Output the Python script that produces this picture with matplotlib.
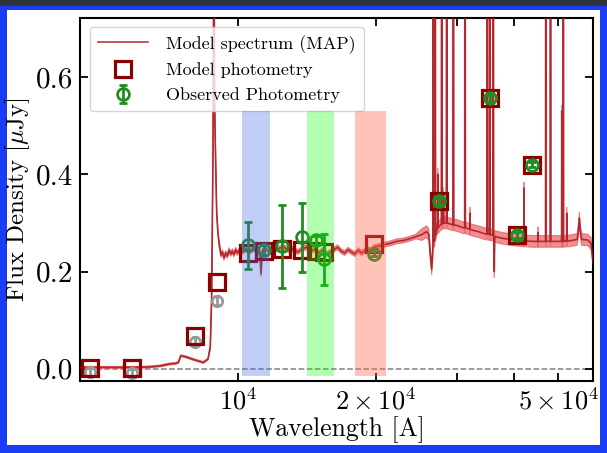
import numpy as np
import matplotlib
matplotlib.use("Agg")
import matplotlib.pyplot as plt
from matplotlib.patches import Rectangle
from matplotlib.ticker import FixedLocator, NullFormatter

plt.rcParams["font.family"] = "serif"
plt.rcParams["font.serif"] = ["cmr10", "DejaVu Serif"]
plt.rcParams["mathtext.fontset"] = "cm"
plt.rcParams["axes.unicode_minus"] = False
plt.rcParams["axes.formatter.use_mathtext"] = True

# model spectrum (MAP): wavelength [A], flux [uJy]
spec_wave = [4530, 5000, 5500, 6000, 6430, 6760, 7100, 7300, 7410, 7470, 7500, 7730, 8000, 8400, 8600,
             8700, 8760, 8820, 8860, 8890, 8940, 8985, 9040, 9100, 9180, 9250, 9320, 9400, 9480, 9560,
             9640, 9720, 9800, 9880, 9960, 10050, 10200, 10400, 10600, 10800, 11000, 11150, 11227, 11300,
             11500, 11800, 12000, 12300, 12600, 12900, 13200, 13500, 13800, 14100, 14400, 14700, 15000,
             15300, 15600, 15900, 16200, 16500, 16800, 17100, 17400, 17700, 18000, 18300, 18600, 18900,
             19200, 19500, 19800, 20200, 20800, 21500, 22200, 23000, 23800, 24500, 25200, 25800, 26100,
             26300, 26480, 26620, 26660, 26700, 26740, 26900, 26950, 27000, 27200, 27270, 27300, 27330,
             27800, 27850, 27900, 28060, 28100, 28140, 28510, 28560, 28610, 29000, 29480, 29530, 29580,
             30000, 31000, 31250, 31310, 31370, 32080, 32110, 32140, 32500, 33500, 34500, 34960, 35020,
             35080, 35410, 35470, 35530, 36030, 36090, 36150, 36200, 36270, 36350, 38000, 40000, 42080,
             42120, 42160, 44000, 45150, 45190, 45230, 46930, 46990, 47050, 48060, 48120, 48180, 50000,
             50870, 50920, 50970, 51270, 51330, 51390, 52170, 52210, 52250, 53000, 55000, 55300, 55620,
             55950, 56300, 58000, 59000, 59700]
spec_flux = [0.003, 0.003, 0.003, 0.003, 0.004, 0.006, 0.010, 0.011, 0.013, 0.022, 0.027, 0.024, 0.019, 0.013, 0.020,
             0.045, 0.150, 0.450, 0.950, 0.550, 0.420, 0.320, 0.280, 0.256, 0.234, 0.240, 0.228, 0.238, 0.232, 0.244,
             0.236, 0.242, 0.235, 0.245, 0.238, 0.243, 0.240, 0.246, 0.241, 0.247, 0.242, 0.244, 0.195, 0.243,
             0.246, 0.240, 0.244, 0.248, 0.250, 0.244, 0.247, 0.240, 0.246, 0.250, 0.242, 0.246, 0.238,
             0.244, 0.236, 0.240, 0.245, 0.250, 0.242, 0.238, 0.245, 0.240, 0.236, 0.244, 0.238, 0.242,
             0.246, 0.244, 0.250, 0.252, 0.255, 0.258, 0.262, 0.264, 0.268, 0.272, 0.276, 0.282, 0.276,
             0.235, 0.205, 0.240, 0.260, 1.500, 0.260, 0.265, 1.500, 0.275, 0.288, 0.290, 0.400, 0.290,
             0.298, 1.500, 0.298, 0.300, 0.360, 0.300, 0.300, 1.500, 0.300, 0.298, 0.296, 1.500, 0.296,
             0.295, 0.290, 0.290, 1.500, 0.290, 0.287, 0.320, 0.287, 0.285, 0.282, 0.278, 0.277, 1.500,
             0.277, 0.276, 1.500, 0.276, 0.275, 1.500, 0.275, 0.270, 0.200, 0.272, 0.268, 0.265, 0.263,
             0.372, 0.263, 0.262, 0.262, 0.280, 0.262, 0.262, 1.500, 0.262, 0.262, 1.500, 0.262, 0.262,
             0.262, 0.530, 0.262, 0.262, 1.500, 0.262, 0.263, 0.320, 0.263, 0.263, 0.266, 0.280, 0.310,
             0.280, 0.266, 0.265, 0.258, 0.215]
# half-width of the shaded band: thin below the break, wider redwards
err_ranges = [(0, 8700, 0.002), (8700, 25000, 0.005), (25000, 1e6, 0.012)]
spec_err = [next(e for lo, hi, e in err_ranges if lo <= w < hi) for w in spec_wave]

# photometry
phot_wave = [4752, 5860, 8055, 9013, 10530, 11412, 12454, 13778, 14805, 15438, 19822, 27496, 35466, 40684, 43770]
model_phot = [0.0015, 0.0015, 0.068, 0.178, 0.239, 0.243, 0.246, 0.245, 0.2425, 0.241, 0.257, 0.346, 0.556, 0.275, 0.419]

# observed photometry: grey = not used in the fit, green = used
grey_wave = [4752, 5860, 8055, 9013]
grey_flux = [-0.006, -0.008, 0.056, 0.140]
grey_err = [0.008, 0.008, 0.009, 0.009]
obs_wave = [10530, 11412, 12454, 13778, 14805, 15438, 19822, 27496, 35466, 40684, 43770]
obs_flux = [0.254, 0.245, 0.252, 0.270, 0.264, 0.225, 0.237, 0.345, 0.556, 0.275, 0.420]
obs_err = [0.048, 0.010, 0.085, 0.071, 0.010, 0.053, 0.006, 0.006, 0.008, 0.006, 0.006]

# shaded filter windows
band_edges = [(10200, 11730), (14150, 16180), (18000, 21040)]
band_colors = ["royalblue", "lime", "tomato"]
band_alpha = [0.33, 0.3, 0.38]
band_y = (-0.014, 0.53)

fig = plt.figure(figsize=(6.07, 4.53), dpi=100, facecolor="#2c3436")
fig.add_artist(Rectangle((0, 0), 1, 447 / 453, transform=fig.transFigure, facecolor="#1a3cf5",
                         edgecolor="none", zorder=-10))
fig.add_artist(Rectangle((7 / 607, 8 / 453), 593 / 607, 435 / 453, transform=fig.transFigure,
                         facecolor="white", edgecolor="none", zorder=-9))

ax = fig.add_axes([0.1326, 0.159, 0.845, 0.802])
ax.set_xscale("log")

lo = np.array(spec_flux) - np.array(spec_err)
hi = np.array(spec_flux) + np.array(spec_err)
ax.fill_between(spec_wave, lo, hi, color="#e5454a", alpha=0.6, lw=0.8, zorder=2)
ax.plot(spec_wave, spec_flux, color="#a8181e", lw=1.2, alpha=0.85, zorder=3, label="Model spectrum (MAP)")

ax.axhline(0, color="gray", ls="--", lw=1.1, zorder=1)

ax.errorbar(grey_wave, grey_flux, yerr=grey_err, fmt="o", mfc="none", mec="#999999", ecolor="#999999",
            ms=7.5, mew=2, elinewidth=2, capsize=2.5, capthick=2, zorder=4)
ax.plot(phot_wave, model_phot, "s", mfc="none", mec="#8b0000", ms=11, mew=2.3, zorder=5,
        label="Model photometry")
ax.errorbar(obs_wave, obs_flux, yerr=obs_err, fmt="o", mfc="none", mec="#228b22", ecolor="#228b22",
            ms=8.5, mew=2, elinewidth=2, capsize=3, capthick=2, zorder=6, label="Observed Photometry")

for (x0, x1), c, a in zip(band_edges, band_colors, band_alpha):
    ax.fill_between([x0, x1], band_y[0], band_y[1], color=c, alpha=a, lw=0, zorder=7)

ax.set_xlim(4530, 59700)
ax.set_ylim(-0.025, 0.722)

ax.xaxis.set_major_locator(FixedLocator([1e4, 2e4, 5e4]))
ax.set_xticklabels([r"$10^4$", r"$2\times10^4$", r"$5\times10^4$"])
ax.xaxis.set_minor_locator(FixedLocator([3e4, 4e4]))
ax.xaxis.set_minor_formatter(NullFormatter())
ax.set_yticks([0.0, 0.2, 0.4, 0.6])
ax.set_yticklabels(["0.0", "0.2", "0.4", "0.6"])
ax.tick_params(which="both", direction="in", top=True, right=True, width=1.3, length=6, pad=5)
ax.tick_params(axis="x", labelsize=19)
ax.tick_params(axis="y", labelsize=21)
for s in ax.spines.values():
    s.set_linewidth(1.5)

ax.set_xlabel("Wavelength [A]", fontsize=18.5, labelpad=1)
ax.set_ylabel(r"Flux Density [$\mu$Jy]", fontsize=18, labelpad=3)

ax.legend(loc="upper left", fontsize=13, frameon=True, fancybox=True, framealpha=0.8,
          edgecolor="#cccccc", handlelength=2.8, handletextpad=1.0, borderpad=0.45,
          labelspacing=0.5, borderaxespad=0.5)

fig.savefig("out.png", dpi=100, facecolor=fig.get_facecolor())
